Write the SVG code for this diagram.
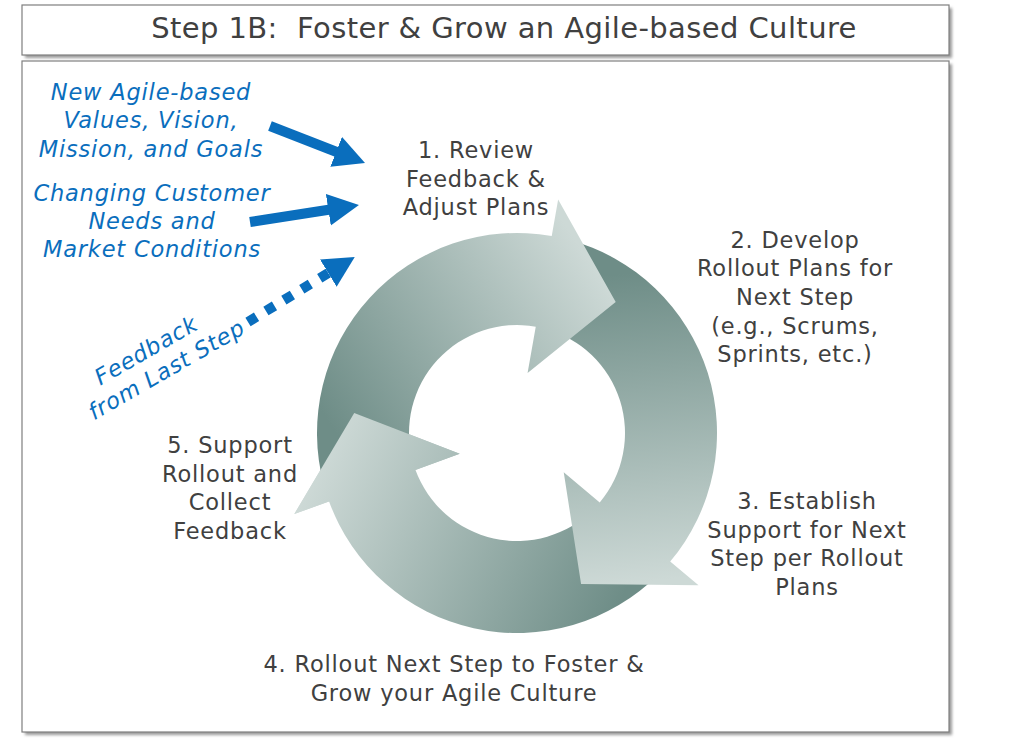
<svg xmlns="http://www.w3.org/2000/svg" width="1018" height="742" viewBox="0 0 1018 742">
<style>
.box{fill:#fff;stroke:#7f7f7f;stroke-width:1.2}
.shadow{fill:#9a9a9a;filter:url(#blur)}
.title{font-family:"DejaVu Sans",Verdana,sans-serif;font-size:29px;letter-spacing:0.4px;fill:#404040;text-anchor:middle;white-space:pre}
.lbl{font-family:"DejaVu Sans",Verdana,sans-serif;font-size:22.5px;letter-spacing:0.8px;fill:#404040;text-anchor:middle}
.in{font-family:"DejaVu Sans",Verdana,sans-serif;font-size:22.5px;letter-spacing:0.8px;font-style:italic;fill:#0a6ebd;text-anchor:middle}
.blue{fill:none;stroke:#0a6ebd;stroke-width:10}
</style>
<defs>
<filter id="blur" x="-5%" y="-5%" width="110%" height="110%"><feGaussianBlur stdDeviation="1.5"/></filter>
<marker id="head" markerUnits="userSpaceOnUse" markerWidth="34" markerHeight="34" refX="2" refY="16" orient="auto" viewBox="0 0 34 34">
<path d="M0,0 L31,16 L0,32 Z" fill="#0a6ebd"/>
</marker>
<linearGradient id="g1" gradientUnits="userSpaceOnUse" x1="360" y1="470" x2="616" y2="302"><stop offset="0" stop-color="#6e8d87"/><stop offset="1" stop-color="#cdd9d6"/></linearGradient>
<linearGradient id="g2" gradientUnits="userSpaceOnUse" x1="560" y1="280" x2="590" y2="587"><stop offset="0" stop-color="#6e8d87"/><stop offset="1" stop-color="#cdd9d6"/></linearGradient>
<linearGradient id="g3" gradientUnits="userSpaceOnUse" x1="640" y1="560" x2="340" y2="420"><stop offset="0" stop-color="#6e8d87"/><stop offset="1" stop-color="#cdd9d6"/></linearGradient>
</defs>

<g id="title-box">
<rect class="shadow" x="25" y="8" width="927" height="50"/>
<rect class="box" x="22" y="5" width="927" height="50"/>
<text class="title" x="504" y="38" xml:space="preserve">Step 1B:  Foster &amp; Grow an Agile-based Culture</text>
</g>
<g id="frame">
<rect class="shadow" x="25" y="64" width="927" height="671"/>
<rect class="box" x="22" y="61" width="927" height="671"/>
</g>

<g id="cycle">
<path id="arrow3" fill="url(#g3)" d="M658.42,574.42 A200,200 0 0 1 329.06,501.40 L294.29,514.06 L354.22,413.01 L459.68,453.86 L415.51,469.94 A108,108 0 0 0 593.37,509.37 Z"/>
<path id="arrow2" fill="url(#g2)" d="M568.76,239.81 A200,200 0 0 1 670.21,561.56 L698.55,585.34 L581.08,583.96 L563.73,472.21 L599.73,502.42 A108,108 0 0 0 544.95,328.68 Z"/>
<path id="arrow1" fill="url(#g1)" d="M323.81,484.76 A200,200 0 0 1 551.73,236.04 L558.15,199.60 L615.70,302.02 L527.59,372.93 L535.75,326.64 A108,108 0 0 0 412.68,460.95 Z"/>
<path id="arrow3-head" fill="url(#g3)" d="M294.29,514.06 L354.22,413.01 L459.68,453.86 Z"/>
</g>

<g id="connectors">
<line class="blue" x1="270" y1="126" x2="338" y2="152.5" marker-end="url(#head)"/>
<line class="blue" x1="250" y1="222" x2="330.3" y2="209.5" marker-end="url(#head)"/>
<line class="blue" x1="248" y1="322" x2="330" y2="272" stroke-dasharray="10 11" marker-end="url(#head)"/>
</g>

<g id="input-values">
<text class="in" x="151" y="100">New Agile-based</text>
<text class="in" x="151" y="128">Values, Vision,</text>
<text class="in" x="151" y="157">Mission, and Goals</text>
</g>
<g id="input-customer">
<text class="in" x="152" y="201">Changing Customer</text>
<text class="in" x="152" y="229">Needs and</text>
<text class="in" x="152" y="257">Market Conditions</text>
</g>
<g id="input-feedback" transform="translate(150,357) rotate(-30)">
<text class="in" x="0" y="0">Feedback</text>
<text class="in" x="8" y="27">from Last Step</text>
</g>

<g id="step1">
<text class="lbl" x="476" y="158">1. Review</text>
<text class="lbl" x="476" y="187">Feedback &amp;</text>
<text class="lbl" x="476" y="215">Adjust Plans</text>
</g>
<g id="step2">
<text class="lbl" x="795" y="248">2. Develop</text>
<text class="lbl" x="795" y="276">Rollout Plans for</text>
<text class="lbl" x="795" y="305">Next Step</text>
<text class="lbl" x="795" y="334">(e.g., Scrums,</text>
<text class="lbl" x="795" y="362">Sprints, etc.)</text>
</g>
<g id="step3">
<text class="lbl" x="807" y="509">3. Establish</text>
<text class="lbl" x="807" y="538">Support for Next</text>
<text class="lbl" x="807" y="566">Step per Rollout</text>
<text class="lbl" x="807" y="595">Plans</text>
</g>
<g id="step4">
<text class="lbl" x="454" y="672">4. Rollout Next Step to Foster &amp;</text>
<text class="lbl" x="454" y="701">Grow your Agile Culture</text>
</g>
<g id="step5">
<text class="lbl" x="230" y="453">5. Support</text>
<text class="lbl" x="230" y="482">Rollout and</text>
<text class="lbl" x="230" y="510">Collect</text>
<text class="lbl" x="230" y="539">Feedback</text>
</g>
</svg>
